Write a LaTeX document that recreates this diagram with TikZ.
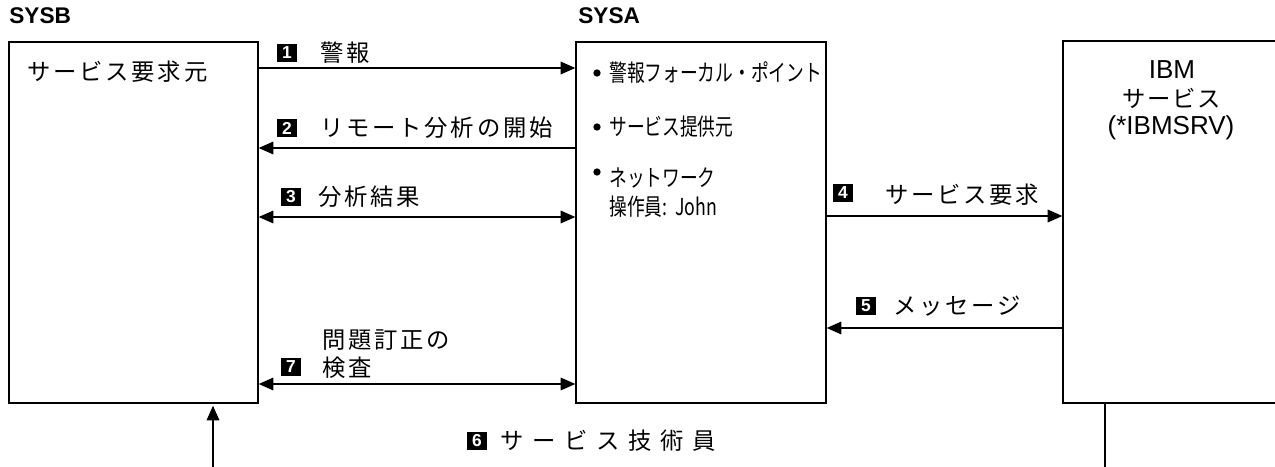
\documentclass[tikz,border=0pt]{standalone}
\usepackage{fontspec}
\setmainfont{Liberation Sans}
\newfontfamily\jp[LetterSpace=12]{Noto Sans CJK JP}
\newfontfamily\jpw[LetterSpace=37]{Noto Sans CJK JP}
\newfontfamily\jpi[LetterSpace=7]{Noto Sans CJK JP}
\newfontfamily\jpc[FakeStretch=0.76]{Noto Sans CJK JP}
\usetikzlibrary{arrows.meta,fit}
\begin{document}
\begin{tikzpicture}[x=0.75pt,y=-0.75pt,
  box/.style={draw, line width=1pt, inner sep=0pt},
  lbl/.style={anchor=west, inner sep=0pt, font=\jp\fontsize{17.5}{21}\selectfont},
  lblw/.style={anchor=west, inner sep=0pt, font=\jpw\fontsize{17.5}{21}\selectfont},
  item/.style={anchor=west, inner sep=0pt, font=\jpc\fontsize{17.5}{21}\selectfont},
  num/.style={fill=black, text=white, inner sep=0pt, minimum width=15pt, minimum height=14pt, font=\bfseries\fontsize{13}{13}\selectfont},
  arr/.style={line width=0.9pt, -{Triangle[length=11pt,width=9.5pt]}},
  darr/.style={line width=0.9pt, {Triangle[length=11pt,width=9.5pt]}-{Triangle[length=11pt,width=9.5pt]}},
  title/.style={anchor=west, inner sep=0pt, font=\bfseries\fontsize{17}{20}\selectfont},
  bullet/.style={circle, fill, inner sep=0pt, minimum size=5.5pt},
  ibmtxt/.style={inner sep=0pt, font=\fontsize{19.5}{23}\selectfont}]
\useasboundingbox (0,0) rectangle (1275,467);
\clip (0,0) rectangle (1275,467);

% titles
\node[title] (tsysb) at (9,16) {SYSB};
\node[title] (tsysa) at (578,16) {SYSA};

% boxes
\node[box, fit={(9,42) (258,403)}] (sysb) {};
\node[box, fit={(576,42) (826,403)}] (sysa) {};
\node[box, fit={(1063,41) (1300,403)}] (ibm) {};

% box contents
\node[lbl] (req) at (27,72) {サービス要求元};

\node[bullet] (b1) at (597,73) {};
\node[item] (i1) at (609,73) {警報フォーカル・ポイント};
\node[bullet] (b2) at (597,127) {};
\node[item] (i2) at (609,127) {サービス提供元};
\node[bullet] (b3) at (597,172) {};
\node[item] (i3) at (609,178) {ネットワーク};
\node[item] (i4) at (609,207) {操作員:\ \ John};

\node[ibmtxt] (ibm1) at (1172,70) {IBM};
\node[inner sep=0pt, font=\jpi\fontsize{17.5}{21}\selectfont] (ibm2) at (1172,98) {サービス};
\node[ibmtxt] (ibm3) at (1171,128) {(*IBMSRV)};

% connectors
\draw[arr] (sysb.east |- 0,68) -- (sysa.west |- 0,68);
\draw[arr] (sysa.west |- 0,148) -- (sysb.east |- 0,148);
\draw[darr] (sysb.east |- 0,217) -- (sysa.west |- 0,217);
\draw[arr] (sysa.east |- 0,216) -- (ibm.west |- 0,216);
\draw[arr] (ibm.west |- 0,328) -- (sysa.east |- 0,328);
\draw[darr] (sysb.east |- 0,384) -- (sysa.west |- 0,384);

\coordinate (upfoot) at (213,467);
\draw[arr, shorten >=1.5pt] (upfoot) -- (sysb.south -| upfoot);
\coordinate (ibmfoot) at (1105,467);
\draw[line width=1pt] (ibm.south -| ibmfoot) -- (ibmfoot);

% labels
\node[num] (n1) at (287,53) {1};
\node[lbl] (l1) at (320,53) {警報};
\node[num] (n2) at (287,128) {2};
\node[lbl] (l2) at (320,128) {リモート分析の開始};
\node[num] (n3) at (291,197) {3};
\node[lbl] (l3) at (318,197) {分析結果};
\node[num] (n4) at (843,193) {4};
\node[lbl] (l4) at (885,195) {サービス要求};
\node[num] (n5) at (866,306) {5};
\node[lbl] (l5) at (893,306) {メッセージ};
\node[num] (n7) at (291,367) {7};
\node[lbl] (l7a) at (322,340) {問題訂正の};
\node[lbl] (l7b) at (322,368) {検査};
\node[num] (n6) at (477,441) {6};
\node[lblw] (l6) at (500,441) {サービス技術員};
\end{tikzpicture}
\end{document}
